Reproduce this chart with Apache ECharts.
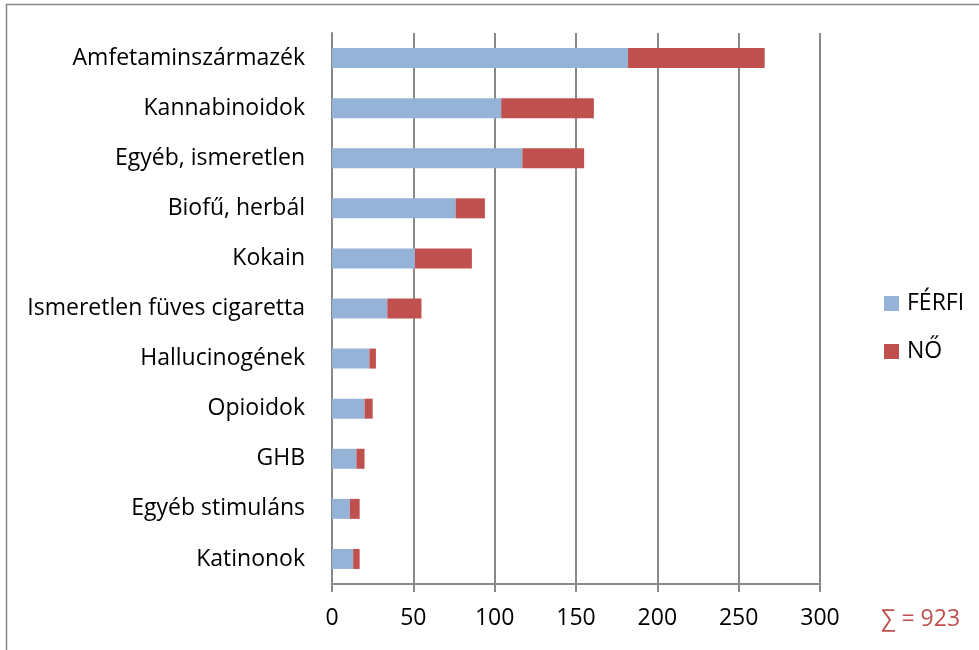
<!DOCTYPE html>
<html>
<head>
<meta charset="utf-8">
<script src="https://cdn.jsdelivr.net/npm/echarts@6/dist/echarts.min.js"></script>
<style>
  html, body { margin: 0; padding: 0; background: #fff; }
  #chart { width: 979px; height: 650px; }
</style>
</head>
<body>
<div id="chart"></div>
<script>
var categories = ['Amfetaminszármazék', 'Kannabinoidok', 'Egyéb, ismeretlen', 'Biofű, herbál', 'Kokain',
    'Ismeretlen füves cigaretta', 'Hallucinogének', 'Opioidok', 'GHB', 'Egyéb stimuláns', 'Katinonok'];
var ferfi = [182, 104, 117, 76, 51, 34, 23, 20, 15, 11, 13];
var no = [84, 57, 38, 18, 35, 21, 4, 5, 5, 6, 4];
var xTicks = [0, 50, 100, 150, 200, 250, 300];
var sumLabel = '∑ = 923';

var font = 'Open Sans, Noto Sans, sans-serif';

var option = {
    animation: false,
    backgroundColor: '#fff',
    grid: { left: 332, right: 159, top: 33, bottom: 66, containLabel: false },
    xAxis: {
        type: 'value',
        min: xTicks[0],
        max: xTicks[xTicks.length - 1],
        interval: 50,
        axisLine: { show: true, lineStyle: { color: '#888', width: 2 } },
        axisTick: { show: true, length: 8, lineStyle: { color: '#888', width: 2 } },
        splitLine: { show: true, lineStyle: { color: '#888', width: 2 } },
        axisLabel: { color: '#000', fontSize: 23, margin: 23, fontFamily: font }
    },
    yAxis: {
        type: 'category',
        inverse: true,
        data: categories,
        axisLine: { show: true, lineStyle: { color: '#888', width: 2 } },
        axisTick: { show: false },
        axisLabel: { color: '#000', fontSize: 23, margin: 27, fontFamily: font }
    },
    legend: {
        orient: 'vertical',
        left: 884,
        top: 292,
        padding: 0,
        icon: 'rect',
        itemWidth: 15,
        itemHeight: 15,
        itemGap: 25,
        textStyle: { color: '#000', fontSize: 23, fontFamily: font, padding: [0, 0, 0, 3] },
        data: ['FÉRFI', 'NŐ']
    },
    graphic: [
        {
            type: 'rect',
            shape: { x: 6.5, y: 4.5, width: 1000, height: 700 },
            style: { fill: 'none', stroke: '#888', lineWidth: 1.5 },
            silent: true
        },
        {
            type: 'text',
            style: {
                x: 881, y: 619, text: sumLabel, fill: '#c0504d',
                fontSize: 23, fontFamily: font, verticalAlign: 'middle'
            }
        }
    ],
    series: [
        {
            name: 'FÉRFI',
            type: 'bar',
            stack: 'total',
            barWidth: 20,
            itemStyle: { color: '#95b3d7' },
            data: ferfi
        },
        {
            name: 'NŐ',
            type: 'bar',
            stack: 'total',
            barWidth: 20,
            itemStyle: { color: '#c0504d' },
            data: no
        }
    ]
};

var chart = echarts.init(document.getElementById('chart'));
chart.setOption(option);
</script>
</body>
</html>
